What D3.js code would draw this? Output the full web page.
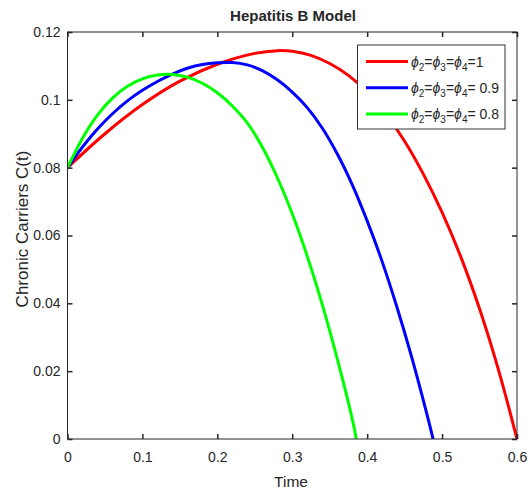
<!DOCTYPE html>
<html>
<head>
<meta charset="utf-8">
<script src="https://cdn.jsdelivr.net/npm/d3@7"></script>
<style>
  html, body { margin: 0; padding: 0; background: #fff; }
  svg { display: block; }
  text { font-family: "Liberation Sans", Arial, Helvetica, sans-serif; fill: #262626; }
</style>
</head>
<body>
<svg id="chart" width="532" height="493"></svg>
<script>
// ---- data ----
const tRed   = [0, 0.05, 0.10, 0.15, 0.20, 0.25, 0.28, 0.30, 0.325, 0.35, 0.375, 0.40, 0.425, 0.45, 0.475, 0.50, 0.525, 0.55, 0.575, 0.60];
const cRed   = [0.080, 0.0900, 0.0986, 0.1055, 0.1105, 0.1137, 0.1145, 0.1143, 0.1131, 0.1107, 0.1072, 0.1023, 0.0958, 0.0878, 0.0781, 0.0668, 0.0537, 0.0384, 0.0206, 0.0];

const tBlue  = [0, 0.02, 0.04, 0.06, 0.08, 0.10, 0.12, 0.14, 0.16, 0.18, 0.20, 0.22, 0.24, 0.26, 0.28, 0.30, 0.32, 0.34, 0.36, 0.38, 0.40, 0.42, 0.44, 0.46, 0.48, 0.488];
const cBlue  = [0.080, 0.0861, 0.0914, 0.0959, 0.0997, 0.1028, 0.1054, 0.1076, 0.1093, 0.1104, 0.1109, 0.1110, 0.1103, 0.1086, 0.1059, 0.1023, 0.0977, 0.0917, 0.0841, 0.0750, 0.0643, 0.0523, 0.0387, 0.0237, 0.0071, 0.0];

const tGreen = [0, 0.02, 0.04, 0.06, 0.08, 0.10, 0.12, 0.14, 0.16, 0.18, 0.20, 0.22, 0.24, 0.26, 0.28, 0.30, 0.32, 0.34, 0.36, 0.38, 0.3855];
const cGreen = [0.080, 0.0887, 0.0955, 0.1005, 0.1040, 0.1062, 0.1073, 0.1075, 0.1067, 0.1049, 0.1021, 0.0982, 0.0932, 0.0861, 0.0771, 0.0664, 0.0539, 0.0397, 0.0237, 0.0060, 0.0];

const seriesNames  = ["1", " 0.9", " 0.8"];
const seriesColors = ["#ff0000", "#0000ff", "#00ff00"];

const xTicks = [0, 0.1, 0.2, 0.3, 0.4, 0.5, 0.6];
const xTickLabels = ["0", "0.1", "0.2", "0.3", "0.4", "0.5", "0.6"];
const yTicks = [0, 0.02, 0.04, 0.06, 0.08, 0.10, 0.12];
const yTickLabels = ["0", "0.02", "0.04", "0.06", "0.08", "0.1", "0.12"];

const titleText = "Hepatitis B Model";
const xLabelText = "Time";
const yLabelText = "Chronic Carriers C(t)";

// ---- layout ----
const svg = d3.select("#chart");
const L = 67.5, R = 517, T = 32, B = 439;
const x = d3.scaleLinear().domain([0, 0.6]).range([L, R]);
const y = d3.scaleLinear().domain([0, 0.12]).range([B, T]);

const series = [
  tRed.map((t, i) => [t, cRed[i]]),
  tBlue.map((t, i) => [t, cBlue[i]]),
  tGreen.map((t, i) => [t, cGreen[i]])
];

// curves
const line = d3.line().x(d => x(d[0])).y(d => y(d[1])).curve(d3.curveCatmullRom.alpha(0.5));
svg.append("clipPath").attr("id", "clip").append("rect")
  .attr("x", L).attr("y", T - 2).attr("width", R - L + 2).attr("height", B - T + 2);
svg.append("g").attr("clip-path", "url(#clip)")
  .selectAll("path").data(series).join("path")
  .attr("d", line)
  .attr("fill", "none")
  .attr("stroke", (d, i) => seriesColors[i])
  .attr("stroke-width", 3)
  .attr("stroke-linejoin", "round");

// axes
const axisColor = "#262626";
function styleAxis(g) {
  g.select(".domain").remove();
  g.selectAll(".tick line").attr("stroke", axisColor).attr("stroke-width", 1.5);
  g.selectAll(".tick text").attr("fill", axisColor)
    .style("font-size", "14px")
    .style("font-family", '"Liberation Sans", Arial, Helvetica, sans-serif');
}
const fmtX = (d) => xTickLabels[xTicks.indexOf(d)];
const fmtY = (d) => yTickLabels[yTicks.indexOf(d)];

svg.append("g").attr("transform", `translate(0,${B})`)
  .call(d3.axisBottom(x).tickValues(xTicks).tickFormat(fmtX).tickSize(-5).tickPadding(13))
  .call(styleAxis);
svg.append("g").attr("transform", `translate(0,${T})`)
  .call(d3.axisTop(x).tickValues(xTicks).tickFormat("").tickSize(-5))
  .call(styleAxis);
svg.append("g").attr("transform", `translate(${L},0)`)
  .call(d3.axisLeft(y).tickValues(yTicks).tickFormat(fmtY).tickSize(-5).tickPadding(7))
  .call(styleAxis);
svg.append("g").attr("transform", `translate(${R},0)`)
  .call(d3.axisRight(y).tickValues(yTicks).tickFormat("").tickSize(-5))
  .call(styleAxis);

// box
svg.append("rect").attr("x", L).attr("y", T).attr("width", R - L).attr("height", B - T)
  .attr("fill", "none").attr("stroke", axisColor).attr("stroke-width", 1);

// labels
svg.append("text").attr("x", 293).attr("y", 21).attr("text-anchor", "middle")
  .style("font-size", "15px").style("font-weight", "bold").attr("fill", "#000").text(titleText);
svg.append("text").attr("x", 291).attr("y", 487).attr("text-anchor", "middle")
  .style("font-size", "15.5px").text(xLabelText);
svg.append("text").attr("transform", "translate(28,229) rotate(-90)").attr("text-anchor", "middle")
  .style("font-size", "17px").text(yLabelText);

// legend
const lg = svg.append("g");
lg.append("rect").attr("x", 357.5).attr("y", 45).attr("width", 147.5).attr("height", 84)
  .attr("fill", "#fff").attr("stroke", "#333").attr("stroke-width", 1);
seriesNames.forEach((name, i) => {
  const yy = 61.5 + i * 26.2;
  lg.append("line").attr("x1", 366).attr("x2", 408).attr("y1", yy).attr("y2", yy)
    .attr("stroke", seriesColors[i]).attr("stroke-width", 3);
  const txt = lg.append("text").attr("x", 411).attr("y", yy + 5).style("font-size", "14px").attr("fill", "#000");
  ["2", "3", "4"].forEach((s) => {
    txt.append("tspan").style("font-style", "italic").text("\u03D5");
    txt.append("tspan").style("font-size", "10px").attr("dy", 4).text(s);
    txt.append("tspan").attr("dy", -4).text("=");
  });
  txt.append("tspan").text(name);
});
</script>
</body>
</html>
